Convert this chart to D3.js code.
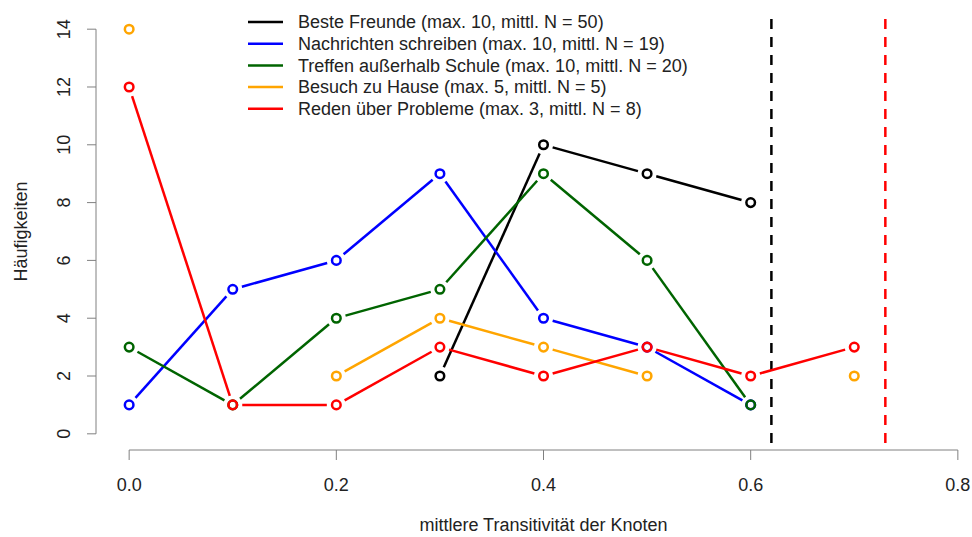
<!DOCTYPE html>
<html>
<head>
<meta charset="utf-8">
<script src="https://cdn.jsdelivr.net/npm/d3@7"></script>
<style>
  body { margin: 0; background: #fff; }
  text { font-family: "Liberation Sans", Arial, sans-serif; fill: #222; }
</style>
</head>
<body>
<div id="chart"></div>
<script>
// data
const x_values = [0, 0.1, 0.2, 0.3, 0.4, 0.5, 0.6, 0.7];
const beste_freunde = [null, null, null, 2, 10, 9, 8, null];
const nachrichten = [1, 5, 6, 9, 4, 3, 1, null];
const treffen = [3, 1, 4, 5, 9, 6, 1, null];
const besuch = [14, null, 2, 4, 3, 2, null, 2];
const reden = [12, 1, 1, 3, 2, 3, 2, 3];

const series_names = [
    "Beste Freunde (max. 10, mittl. N = 50)",
    "Nachrichten schreiben (max. 10, mittl. N = 19)",
    "Treffen außerhalb Schule (max. 10, mittl. N = 20)",
    "Besuch zu Hause (max. 5, mittl. N = 5)",
    "Reden über Probleme (max. 3, mittl. N = 8)"
];
const series_colors = ["#000000", "#0000ff", "#006400", "#ffa500", "#ff0000"];
const series_values = [beste_freunde, nachrichten, treffen, besuch, reden];

const mean_values = [0.62, 0.73];
const mean_colors = ["#000000", "#ff0000"];

const x_ticks = [0, 0.2, 0.4, 0.6, 0.8];
const y_ticks = [0, 2, 4, 6, 8, 10, 12, 14];

const W = 972, H = 537;
const plot = { left: 96, right: 991, top: 13, bottom: 450 };

const svg = d3.select("#chart").append("svg")
    .attr("width", W)
    .attr("height", H);

const x = d3.scaleLinear().domain([-0.032, 0.832]).range([plot.left, plot.right]);
const y = d3.scaleLinear().domain([-0.56, 14.56]).range([plot.bottom, plot.top]);

const axis_color = "#808080";

// y axis
const g_y = svg.append("g");
g_y.append("line")
    .attr("x1", plot.left).attr("x2", plot.left)
    .attr("y1", y(0)).attr("y2", y(14))
    .attr("stroke", axis_color).attr("stroke-width", 1);
y_ticks.forEach(t => {
    g_y.append("line")
        .attr("x1", plot.left - 9).attr("x2", plot.left)
        .attr("y1", y(t)).attr("y2", y(t))
        .attr("stroke", axis_color).attr("stroke-width", 1);
    g_y.append("text")
        .attr("transform", `translate(70,${y(t)}) rotate(-90)`)
        .attr("text-anchor", "middle")
        .style("font-size", "18px")
        .text(t);
});

// x axis
const g_x = svg.append("g");
g_x.append("line")
    .attr("x1", x(0)).attr("x2", x(0.8))
    .attr("y1", plot.bottom).attr("y2", plot.bottom)
    .attr("stroke", axis_color).attr("stroke-width", 1);
x_ticks.forEach(t => {
    g_x.append("line")
        .attr("x1", x(t)).attr("x2", x(t))
        .attr("y1", plot.bottom).attr("y2", plot.bottom + 10)
        .attr("stroke", axis_color).attr("stroke-width", 1);
    g_x.append("text")
        .attr("x", x(t))
        .attr("y", 491)
        .attr("text-anchor", "middle")
        .style("font-size", "18px")
        .text(t.toFixed(1));
});

// axis titles
svg.append("text")
    .attr("x", (x(0) + x(0.8)) / 2)
    .attr("y", 531)
    .attr("text-anchor", "middle")
    .style("font-size", "18px")
    .text("mittlere Transitivität der Knoten");

svg.append("text")
    .attr("transform", `translate(27,${(y(0) + y(14)) / 2}) rotate(-90)`)
    .attr("text-anchor", "middle")
    .style("font-size", "18px")
    .text("Häufigkeiten");

// mean lines
mean_values.forEach((m, i) => {
    svg.append("line")
        .attr("x1", x(m)).attr("x2", x(m))
        .attr("y1", plot.top + 6).attr("y2", plot.bottom)
        .attr("stroke", mean_colors[i])
        .attr("stroke-width", 2.5)
        .attr("stroke-dasharray", "10,8");
});

// series, R type "b": segments with gaps around points
const gap = 9.5;
series_values.forEach((vals, s) => {
    const g = svg.append("g");
    for (let i = 0; i < vals.length - 1; i++) {
        if (vals[i] == null || vals[i + 1] == null) continue;
        const x1 = x(x_values[i]), y1 = y(vals[i]);
        const x2 = x(x_values[i + 1]), y2 = y(vals[i + 1]);
        const len = Math.hypot(x2 - x1, y2 - y1);
        if (len <= 2 * gap) continue;
        const ux = (x2 - x1) / len, uy = (y2 - y1) / len;
        g.append("line")
            .attr("x1", x1 + ux * gap).attr("y1", y1 + uy * gap)
            .attr("x2", x2 - ux * gap).attr("y2", y2 - uy * gap)
            .attr("stroke", series_colors[s])
            .attr("stroke-width", 2.5);
    }
    g.selectAll("circle")
        .data(vals.map((v, i) => ({ x: x_values[i], v })).filter(d => d.v != null))
        .enter().append("circle")
        .attr("cx", d => x(d.x))
        .attr("cy", d => y(d.v))
        .attr("r", 4.3)
        .attr("fill", "none")
        .attr("stroke", series_colors[s])
        .attr("stroke-width", 2.5);
});

// legend
const legend = svg.append("g");
series_names.forEach((name, i) => {
    const ly = 22 + i * 21.7;
    legend.append("line")
        .attr("x1", 248).attr("x2", 283)
        .attr("y1", ly).attr("y2", ly)
        .attr("stroke", series_colors[i])
        .attr("stroke-width", 2.5);
    legend.append("text")
        .attr("x", 298)
        .attr("y", ly)
        .attr("dy", "0.35em")
        .style("font-size", "18px")
        .text(name);
});
</script>
</body>
</html>
